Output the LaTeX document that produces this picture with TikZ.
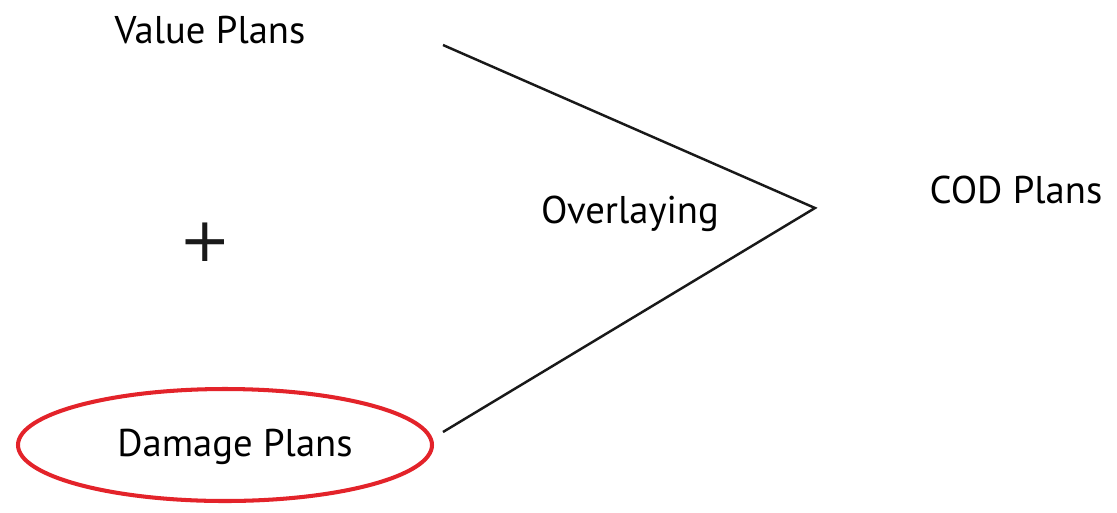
\documentclass[tikz,border=0pt]{standalone}
\usepackage{fontspec}
\setmainfont{PT Sans}
\newfontfamily\plusfont{DejaVu Sans}
\definecolor{ovalred}{HTML}{E3232A}
\begin{document}
\begin{tikzpicture}[x=0.02cm,y=-0.02cm,
  lbl/.style={inner sep=0pt, font=\fontsize{22}{26}\selectfont},
  connector/.style={draw=black!90, line width=1.4pt},
  oval/.style={draw=ovalred, line width=2.3pt}]
\useasboundingbox (0,0) rectangle (1117,512);
\node[lbl] (value) at (210,30) {Value Plans};
\node[lbl] (overlay) at (630,214) {Overlaying};
\node[lbl] (cod) at (1016,190) {COD Plans};
\node[inner sep=0pt, font=\plusfont\fontsize{35}{40}\selectfont, text=black!90] (plus) at (205,242) {+};
\node[lbl] (damage) at (235,447) {Damage Plans};
\draw[oval] (225,445) ellipse [x radius=207, y radius=56];
\coordinate (top) at (443,45);
\coordinate (apex) at (815,208);
\coordinate (bot) at (443,432);
\draw[connector] (top) -- (apex) -- (bot);
\end{tikzpicture}
\end{document}
